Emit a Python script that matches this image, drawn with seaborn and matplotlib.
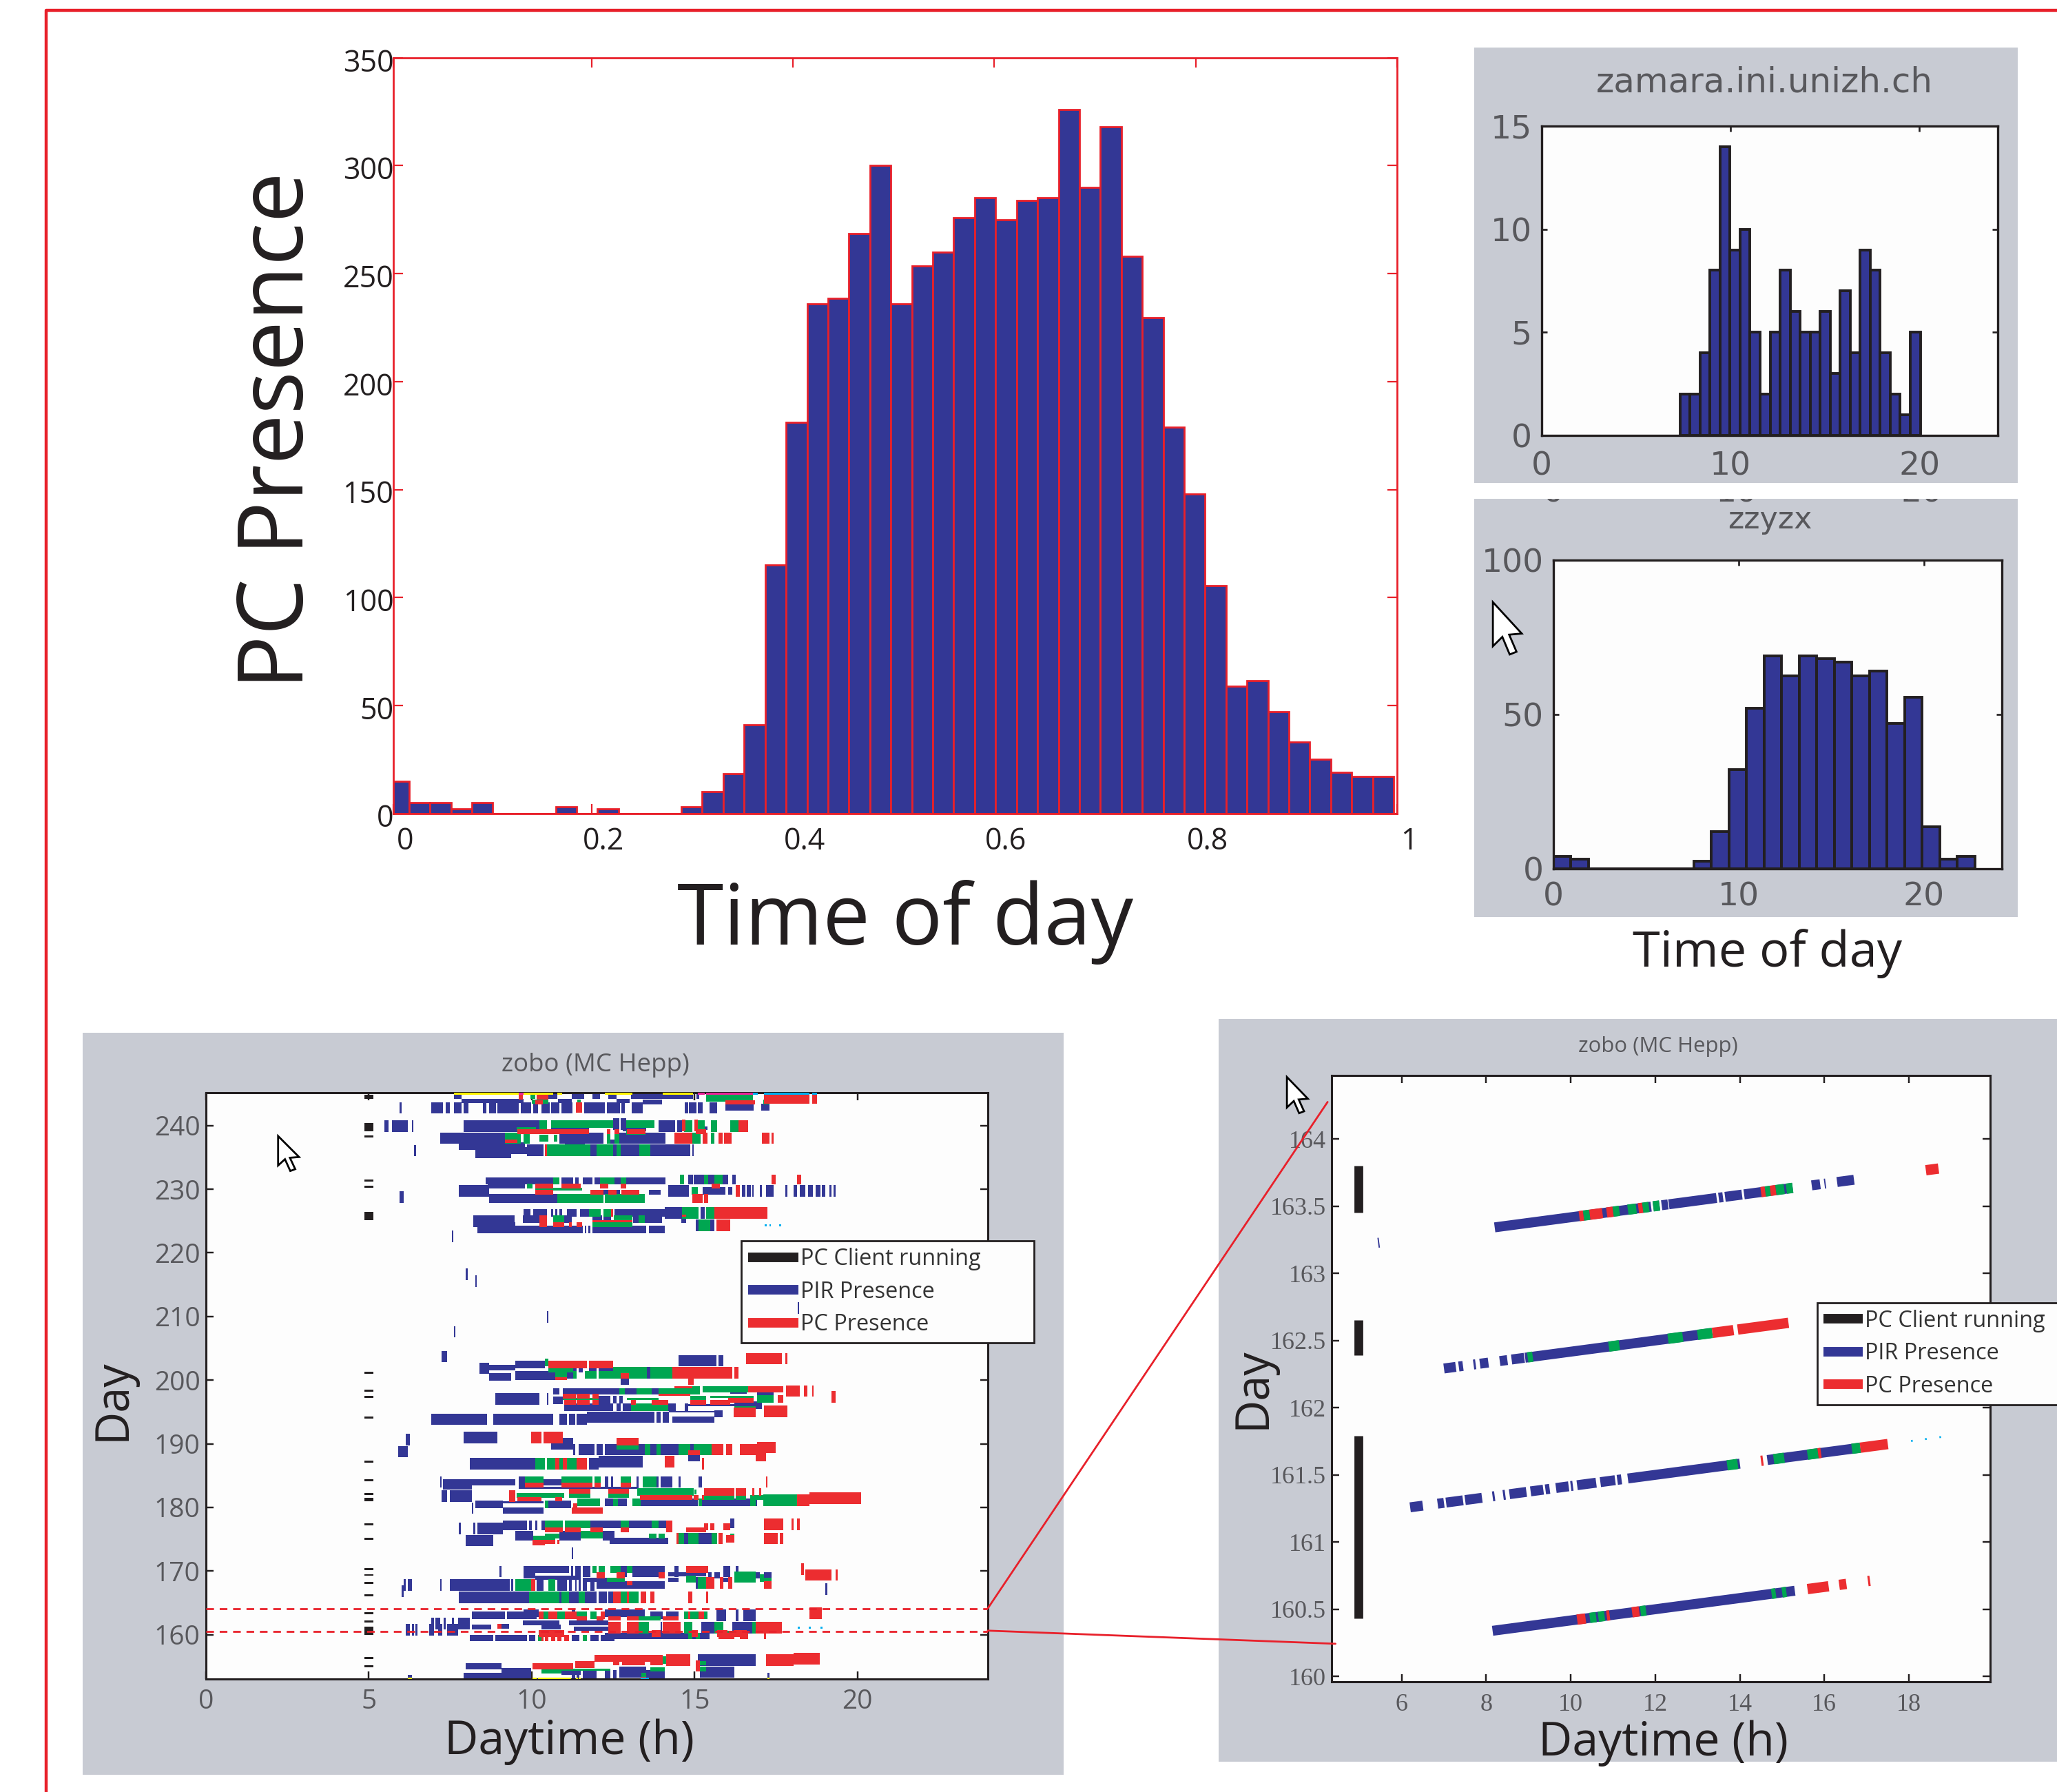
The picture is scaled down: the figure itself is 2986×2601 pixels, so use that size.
import numpy as np
import seaborn as sns
import matplotlib.pyplot as plt
from matplotlib.lines import Line2D
from matplotlib.patches import Polygon, Rectangle
from matplotlib.transforms import ScaledTranslation

# histogram counts, half hour bins over the day fraction
all_counts = [15, 5, 5, 2, 5, 0, 0, 0, 3, 0, 2, 0, 0, 0, 3, 10, 18.5, 41, 115, 181, 236, 238.5, 268.5, 300,
              236, 253.5, 260, 276, 285, 275, 284, 285, 326, 290, 318, 258, 229.5, 179, 148, 105.5, 59, 61.5,
              47, 33, 25, 19, 17, 17]
zamara_counts = [2, 2, 4, 8, 14, 9, 10, 5, 2, 5, 8, 6, 5, 5, 6, 3, 7, 4, 9, 8, 4, 2, 1, 5]
zzyzx_counts = [4, 3, 0, 0, 0, 0, 0, 0, 2.4, 12, 32, 52, 69, 62.5, 69, 68, 67, 62.5, 64, 47, 55.5, 13.5, 3, 4]

# left raster: (day, day span, start hour, end hour)
client_days = [(244.5, .7), (239.7, 1.3), (238.3, .35), (231.35, .35), (230.4, .35), (225.75, 1.3), (201.15, .35),
               (198.3, .35), (197.35, .35), (194.1, .35), (187.2, .35), (184.25, .35), (182.1, .35), (181.25, .6),
               (177.3, .35), (175.05, .35), (170.3, .35), (169.35, .25), (168.1, .35), (166.15, .35), (163.35, .35),
               (162.05, .35), (160.6, 1.3), (156.3, .35), (155, .35)]

pir_segs = [
    # 243-245
    (244.55, .65, 7.61, 7.85), (244.55, .65, 10.51, 10.78), (244.55, .65, 11.22, 11.6), (244.55, .65, 11.87, 12.1),
    (244.55, .65, 12.35, 12.6), (244.55, .65, 13.05, 14.95), (244.55, .65, 15.05, 15.15),
    (243.85, .55, 7.85, 9.75), (243.85, .55, 10.8, 11.22), (243.85, .55, 12.6, 13.0), (243.7, .7, 13.4, 14.0),
    (242.76, 1.5, 6.92, 7.28), (242.76, 1.5, 7.36, 7.49), (242.76, 1.5, 7.61, 7.85), (242.76, 1.5, 7.9, 8.05),
    (242.76, 1.5, 8.5, 8.6), (242.76, 1.5, 8.69, 8.9), (242.76, 1.5, 8.95, 9.6), (242.76, 1.5, 9.66, 9.99),
    (242.76, 1.5, 10.04, 10.2), (242.76, 1.5, 10.3, 10.55), (242.76, 1.5, 10.6, 10.85), (242.76, 1.5, 10.92, 11.25),
    (242.76, 1.5, 11.6, 12.25), (242.76, 1.5, 12.3, 12.7), (242.76, 1.5, 12.75, 12.85), (242.76, 1.5, 13.07, 13.4),
    (242.76, 1.5, 14.7, 14.8), (242.76, 1.5, 14.83, 15.05), (242.76, 1.5, 15.1, 15.25), (242.76, 1.5, 15.45, 15.7),
    (242.9, 1.0, 15.95, 16.81), (242.9, 1.0, 17.05, 17.3), (242.76, 1.5, 5.95, 6.0),
    # 235-241
    (239.93, 1.6, 5.48, 5.6), (239.93, 1.6, 5.7, 6.2), (239.93, 1.6, 6.33, 6.37), (239.93, 1.6, 7.9, 10.24),
    (240.22, 1.6, 12.49, 12.68), (240.22, 1.6, 12.72, 12.9), (239.93, 1.6, 13.9, 14.4), (239.93, 1.6, 14.47, 14.62),
    (239.4, .6, 10.59, 11.76), (239.5, .65, 12.8, 13.52), (239.6, .5, 15.1, 15.4),
    (238.0, 1.5, 7.18, 9.18), (238.0, 1.5, 11.0, 12.2), (238.0, 1.5, 12.68, 14.1), (238.0, 1.5, 10.85, 11.0),
    (236.74, 1.0, 7.77, 9.8), (236.12, 1.6, 9.86, 10.37), (236.74, .7, 11.01, 11.63), (236.12, 1.6, 11.8, 11.98),
    (236.12, 1.6, 12.49, 12.61), (236.12, 1.6, 12.72, 13.3), (236.12, 1.6, 13.63, 14.86), (236.12, 1.6, 14.92, 14.98),
    (235.62, 1.25, 8.26, 9.37), (236.05, .9, 9.37, 9.86), (236.05, 1.5, 6.38, 6.44), (237.5, .55, 12.3, 13.2),
    # 228-232
    (231.3, 1.0, 8.59, 10.65), (231.3, 1.0, 10.91, 11.27), (231.3, 1.0, 11.33, 11.44), (231.3, 1.0, 11.57, 11.87),
    (231.3, 1.0, 11.93, 12.1), (231.3, 1.0, 12.54, 12.72), (231.3, 1.0, 12.9, 14.1), (231.5, 1.35, 14.8, 14.95),
    (231.5, 1.35, 14.98, 15.29), (231.5, 1.35, 15.42, 15.6), (231.5, 1.35, 15.85, 16.02), (231.5, 1.35, 16.15, 16.27),
    (230.5, .6, 8.65, 9.8), (229.73, 1.6, 7.77, 8.7), (229.73, 1.6, 14.18, 14.83), (229.73, 1.0, 15.24, 15.95),
    (229.73, 1.0, 16.02, 16.15), (229.73, 1.6, 16.45, 16.55), (229.73, 1.6, 16.6, 16.72), (229.73, 1.6, 16.76, 16.82),
    (229.73, 1.6, 17.0, 17.06), (229.73, 1.6, 17.19, 17.43), (229.73, 1.6, 17.79, 17.85), (229.73, 1.6, 18.04, 18.15),
    (229.73, 1.6, 18.22, 18.39), (229.73, 1.6, 18.48, 18.63), (229.73, 1.6, 18.72, 18.86), (229.73, 1.6, 18.9, 19.02),
    (229.73, 1.6, 19.13, 19.2), (229.73, 1.6, 19.27, 19.33), (229.5, .65, 12.1, 12.7), (229.5, .65, 13.6, 13.96),
    (228.58, 1.25, 8.69, 10.78), (228.8, 1.6, 5.95, 6.07),
    # 223-227
    (226.27, 1.0, 9.74, 9.97), (226.27, 1.0, 10.04, 10.46), (226.27, 1.0, 10.59, 10.65), (226.27, 1.0, 10.72, 10.78),
    (226.27, 1.0, 10.85, 10.94), (226.27, 1.0, 11.08, 11.38), (226.27, 1.0, 11.49, 11.76), (226.27, 1.0, 12.54, 14.09),
    (226.27, 1.6, 14.09, 14.62), (226.27, 1.6, 15.18, 15.3), (225.29, 1.0, 8.2, 9.48), (225.29, 1.0, 9.72, 10.24),
    (225.29, 1.0, 11.0, 11.22), (225.29, 1.0, 11.87, 12.15), (225.29, 1.0, 12.2, 12.44), (225.29, 1.0, 13.12, 14.0),
    (224.46, .65, 8.2, 8.33), (224.46, .65, 8.33, 9.5), (223.67, 1.0, 8.33, 11.56), (223.67, 1.0, 11.63, 11.67),
    (223.67, 1.0, 11.74, 11.8), (223.67, 1.0, 11.87, 13.52), (223.67, 1.0, 13.59, 14.09), (224.32, 1.6, 15.04, 15.11),
    (224.32, 1.6, 15.48, 15.6), (225.2, .9, 14.6, 14.74),
    # isolated
    (222.6, 1.6, 7.54, 7.6), (216.6, 1.6, 7.98, 8.04), (215.6, 1.6, 8.26, 8.32), (209.9, 1.6, 10.46, 10.51),
    (207.6, 1.5, 7.62, 7.66), (203.68, 1.5, 7.24, 7.41),
    # 199-204
    (203.03, 1.5, 14.51, 15.67), (203.03, 1.5, 15.73, 15.89), (202.45, 1.0, 9.5, 10.41), (201.83, 1.55, 8.39, 8.69),
    (202.0, .75, 8.69, 9.5), (201.62, .65, 11.27, 11.38), (201.62, .65, 11.44, 11.56), (201.62, .65, 11.76, 12.0),
    (201.62, .65, 12.05, 12.49), (201.15, 1.6, 13.53, 13.63), (200.53, 1.0, 8.69, 9.37), (200.68, 1.25, 9.5, 10.73),
    (200.7, .9, 11.08, 11.27), (199.85, 1.0, 12.72, 12.98),
    # 193-199
    (198.26, .87, 10.65, 10.85), (198.26, .87, 10.95, 12.68), (198.26, .87, 12.85, 13.21), (198.26, .87, 13.69, 13.89),
    (197.03, 1.6, 8.88, 10.24), (197.03, 1.6, 10.46, 10.51), (196.85, 1.0, 10.65, 10.95), (196.9, 1.0, 12.05, 12.41),
    (196.9, 1.0, 12.5, 12.61), (196.9, 1.0, 12.68, 12.8), (197.83, .65, 16.92, 17.43), (198.0, .3, 16.1, 16.6),
    (195.73, 1.0, 11.0, 12.49), (195.73, 1.0, 12.61, 12.72), (195.73, 1.0, 12.8, 13.04), (195.73, 1.0, 14.18, 14.42),
    (195.73, 1.0, 14.69, 14.8), (196.06, .33, 14.8, 16.22), (196.06, 1.0, 16.22, 17.06), (194.15, 1.5, 11.7, 13.77),
    (194.15, 1.5, 13.82, 13.96), (194.15, 1.5, 14.02, 14.2), (193.82, .87, 14.31, 15.6), (195.05, .25, 14.2, 15.85),
    (194.72, .9, 15.6, 15.85), (193.82, 1.5, 6.92, 8.63), (193.82, 1.5, 8.81, 10.65), (193.82, 1.5, 10.85, 11.08),
    (193.82, 1.5, 11.14, 11.34), (193.82, 1.5, 11.38, 11.69),
    # 186-192
    (190.93, 1.6, 7.9, 8.94), (190.64, 1.6, 6.13, 6.26), (188.73, 1.5, 5.9, 6.2), (190.32, 1.0, 10.95, 11.27),
    (189.67, 1.0, 10.59, 11.27), (189.05, 1.5, 11.27, 11.34), (189.05, 1.5, 11.44, 11.93), (189.05, 1.5, 11.99, 12.18),
    (189.05, 1.5, 12.25, 13.47), (189.05, 1.5, 13.63, 13.83), (189.05, 1.5, 13.96, 14.51), (189.05, 1.5, 14.87, 14.98),
    (187.83, 1.0, 14.8, 15.16), (186.85, 1.6, 8.1, 10.1), (186.85, 1.6, 11.76, 12.05), (187.18, 1.6, 12.05, 13.4),
    # 179-185
    (183.96, 1.5, 9.61, 9.8), (183.96, .87, 10.36, 10.91), (183.96, 1.5, 12.25, 12.36), (183.96, 1.5, 12.44, 12.49),
    (183.96, 1.5, 13.21, 13.27), (183.96, 1.5, 13.83, 13.89), (183.96, 1.5, 13.96, 14.31), (183.96, 1.5, 14.51, 14.56),
    (183.96, 1.5, 15.11, 15.23), (183.96, .87, 7.28, 9.5), (183.96, 1.5, 7.18, 7.23), (183.2, .65, 7.28, 8.16),
    (183.06, .33, 9.61, 13.27), (181.76, 1.6, 7.24, 7.41), (181.76, 1.6, 7.48, 8.16), (180.79, 1.0, 12.25, 12.5),
    (180.79, 1.0, 12.64, 12.91), (180.79, 1.0, 13.34, 15.1), (180.79, 1.0, 15.23, 16.71), (180.79, 1.0, 16.87, 16.92),
    (180.46, 1.0, 8.26, 9.12), (180.82, .25, 9.12, 10.36), (180.46, 1.0, 10.51, 11.2), (179.52, .87, 9.12, 10.36),
    (179.85, 1.5, 8.17, 8.2),
    # 173-178
    (177.14, 1.3, 9.12, 9.86), (177.14, 1.3, 9.92, 10.0), (177.14, 1.3, 10.1, 10.18), (177.14, 1.3, 10.29, 10.41),
    (177.32, 1.0, 11.8, 12.72), (177.32, 1.0, 12.98, 13.69), (177.32, 1.0, 13.89, 14.12), (177.47, 1.3, 16.09, 16.22),
    (176.67, 1.6, 7.77, 7.83), (176.67, 1.6, 8.2, 8.27), (176.67, 1.6, 8.33, 9.12), (175.52, 1.3, 9.5, 10.04),
    (175.52, 1.3, 10.85, 11.5), (175.52, 1.3, 12.18, 12.54), (174.76, .87, 12.4, 14.18), (174.76, 1.5, 7.97, 8.81),
    (175.08, 1.5, 14.67, 14.8), (175.08, 1.5, 15.11, 15.53), (175.2, .9, 16.09, 16.22), (172.8, 1.6, 11.22, 11.27),
    # 165-171
    (169.96, 1.5, 9.01, 9.08), (170.25, .95, 9.74, 11.14), (169.96, 1.5, 11.2, 11.27), (169.96, 1.5, 11.34, 11.5),
    (169.96, 1.5, 11.56, 11.8), (169.96, 1.5, 12.72, 12.91), (169.96, 1.5, 13.1, 14.09), (169.96, 1.5, 14.38, 14.51),
    (169.96, 1.5, 15.89, 16.09), (169.96, 1.5, 16.27, 16.34), (169.34, .87, 9.74, 10.1), (168.91, .6, 10.1, 11.5),
    (169.49, .6, 14.18, 15.36), (169.34, .87, 15.42, 15.52), (169.34, .87, 15.6, 15.78), (169.34, .87, 16.87, 17.0),
    (169.34, .87, 17.13, 17.36), (168.6, .6, 11.56, 12.3), (168.6, .6, 14.18, 14.5), (168.6, .6, 15.89, 16.09),
    (167.79, 1.6, 7.48, 9.33), (167.79, 1.6, 9.37, 9.43), (167.79, 1.6, 10.16, 10.36), (167.79, 1.6, 10.78, 11.08),
    (167.79, 1.6, 11.14, 11.22), (167.79, 1.6, 11.34, 11.38), (167.79, 1.6, 11.44, 11.5), (167.79, 1.6, 11.56, 11.69),
    (167.79, 1.6, 11.8, 11.93), (167.79, 1.0, 11.99, 14.09), (167.79, 1.6, 6.07, 6.13), (167.79, 1.6, 6.19, 6.33),
    (167.79, 1.6, 7.18, 7.23), (168.12, 1.6, 15.04, 15.1), (166.82, 1.6, 6.0, 6.07), (167.14, 1.6, 19.02, 19.07),
    (165.84, 1.6, 7.77, 9.92), (165.84, 1.6, 10.85, 10.91), (165.84, 1.6, 11.14, 11.44), (165.84, 1.6, 11.63, 11.99),
    (165.84, 1.6, 12.05, 12.3), (165.84, 1.6, 12.36, 12.49),
    # 159-164
    (163.35, 1.0, 9.75, 10.22), (163.03, 1.0, 8.16, 9.18), (163.03, 1.0, 9.25, 10.16), (163.35, 1.0, 11.22, 11.34),
    (163.35, 1.0, 12.25, 13.47), (163.06, 1.0, 13.63, 14.02), (163.06, 1.0, 14.12, 14.51), (163.06, 1.6, 15.67, 15.96),
    (163.06, 1.6, 16.27, 16.34), (163.06, 1.6, 16.5, 16.87), (161.69, 1.6, 6.92, 7.0), (161.69, 1.6, 7.05, 7.18),
    (161.69, 1.6, 7.29, 7.36), (161.69, 1.6, 7.54, 7.61), (161.69, 1.6, 7.73, 8.1), (161.87, .65, 9.73, 10.85),
    (161.87, .65, 11.14, 12.36), (161.22, .65, 8.16, 8.76), (161.3, .65, 9.01, 9.3), (161.22, .65, 10.3, 10.9),
    (161.08, 1.6, 13.96, 14.0), (161.08, 1.6, 15.2, 15.6), (161.08, 1.6, 16.15, 16.76), (160.72, 1.6, 6.13, 6.26),
    (160.72, 1.6, 6.33, 6.38), (160.72, 1.6, 6.43, 6.5), (160.72, 1.6, 6.86, 6.99), (160.72, 1.6, 7.12, 7.25),
    (160.72, 1.6, 7.41, 7.74), (160.93, .6, 11.3, 12.53), (159.49, .8, 8.1, 8.81), (159.49, .8, 8.88, 9.86),
    (159.49, .8, 9.92, 10.1), (159.49, .8, 11.22, 11.46), (159.49, .8, 11.8, 12.05), (159.49, .8, 12.12, 12.54),
    (159.81, .87, 12.25, 14.8), (159.81, .87, 14.93, 15.04), (159.81, .87, 15.16, 15.46),
    # 153-157
    (155.98, 1.6, 15.1, 16.87), (155.05, .87, 7.97, 9.08), (153.49, .95, 7.9, 9.08), (153.82, 1.6, 9.08, 9.99),
    (154.0, .6, 10.91, 11.5), (153.35, .65, 11.22, 11.34), (153.35, .65, 11.38, 11.46), (153.68, 1.25, 11.56, 11.98),
    (153.68, 1.25, 12.25, 12.41), (153.68, 1.25, 12.49, 12.61), (154.11, 1.45, 12.68, 13.52), (153.68, 1.25, 13.52, 14.09),
    (154.11, 1.45, 15.16, 16.22), (153.35, .6, 6.19, 6.33), (153.49, .9, 17.24, 17.3),
]

green_segs = [
    (244.3, .9, 15.35, 16.8), (244.55, .65, 9.95, 10.1), (243.75, .5, 10.0, 10.5), (243.8, .5, 11.4, 11.5),
    (243.7, .6, 17.1, 17.3), (239.93, 1.6, 10.24, 10.46), (240.26, 1.0, 10.59, 12.49), (240.6, .35, 11.57, 12.49),
    (240.26, 1.0, 12.9, 13.77), (239.93, 1.6, 14.67, 14.93), (239.93, 1.6, 15.1, 15.3), (239.93, 1.6, 15.5, 15.7),
    (239.93, 1.6, 16.1, 16.35), (239.4, .6, 9.53, 10.13), (238.0, 1.5, 9.18, 9.67), (238.0, 1.5, 9.75, 9.93),
    (238.0, 1.0, 10.24, 10.5), (238.0, 1.0, 10.67, 10.78), (238.0, 1.5, 12.3, 12.41), (238.0, 1.5, 12.55, 12.68),
    (238.9, .65, 12.9, 13.5), (238.0, 1.5, 14.93, 15.18), (238.0, 1.5, 15.5, 15.6), (236.12, 1.6, 10.46, 11.8),
    (236.12, 1.6, 11.98, 12.49), (236.12, 1.6, 12.61, 12.72), (236.12, 1.6, 13.3, 13.63),
    (231.3, 1.0, 10.65, 10.85), (231.3, 1.0, 12.1, 12.54), (231.3, 1.0, 12.72, 12.9), (231.5, 1.35, 14.55, 14.67),
    (231.5, 1.35, 15.29, 15.42), (231.5, 1.35, 15.6, 15.85), (230.5, .6, 9.86, 10.02), (230.02, .35, 10.1, 10.65),
    (230.02, .35, 10.65, 11.55), (228.58, 1.25, 10.78, 12.2), (228.58, 1.25, 12.25, 13.47), (229.73, 1.0, 14.9, 15.1),
    (228.6, .8, 15.29, 15.42), (226.27, 1.0, 11.76, 12.12), (226.27, 1.0, 12.2, 12.44), (226.27, 1.6, 14.62, 15.11),
    (226.27, 1.6, 15.36, 15.6), (225.29, 1.0, 10.65, 11.0), (225.29, 1.0, 12.52, 13.1), (225.29, 1.0, 13.28, 13.47),
    (224.46, .65, 11.87, 13.08), (224.32, 1.6, 15.11, 15.48),
    (202.8, 1.0, 10.41, 10.51), (201.62, .65, 10.51, 11.27), (201.15, 1.6, 12.49, 13.53), (201.15, 1.6, 13.63, 14.32),
    (200.82, 1.0, 10.73, 11.08), (200.82, 1.0, 11.27, 11.38), (200.82, 1.0, 11.63, 12.0), (200.82, 1.0, 12.05, 12.49),
    (198.26, .87, 12.68, 12.85), (198.26, .87, 13.21, 13.69), (198.26, .87, 13.89, 15.16), (198.58, .87, 14.93, 15.16),
    (198.58, .87, 15.24, 16.65), (197.03, .33, 10.95, 12.05), (197.03, .33, 12.91, 13.89), (197.18, .65, 14.87, 15.36),
    (197.36, .33, 15.48, 16.81), (197.03, 1.0, 16.92, 17.43), (195.73, 1.0, 13.04, 14.18), (195.73, .33, 16.22, 16.87),
    (190.46, .65, 10.59, 10.95), (189.49, .65, 12.6, 13.27), (189.05, 1.5, 13.47, 13.63), (189.05, 1.5, 13.83, 13.96),
    (189.05, 1.5, 14.51, 14.87), (189.05, 1.5, 14.98, 15.53), (186.85, 1.6, 10.1, 10.22), (186.85, 1.6, 10.22, 10.41),
    (186.85, 1.6, 10.46, 10.72), (186.85, 1.6, 10.85, 10.95), (186.85, 1.6, 11.08, 11.38),
    (183.96, 1.5, 9.8, 10.36), (183.96, 1.5, 10.91, 11.87), (183.96, 1.5, 11.93, 12.12), (183.96, 1.5, 12.72, 13.04),
    (183.96, 1.5, 13.4, 13.83), (182.41, 1.0, 13.24, 14.97), (182.41, .65, 15.0, 15.05), (181.87, .65, 9.53, 11.0),
    (181.87, .65, 11.14, 11.8), (181.87, .65, 12.36, 12.98), (181.58, .65, 15.29, 16.22), (181.58, .65, 16.27, 16.58),
    (181.58, .65, 16.71, 17.13), (181.11, 1.6, 17.1, 18.15), (180.79, 1.0, 12.5, 12.64), (180.79, 1.0, 13.09, 13.34),
    (180.79, 1.0, 15.11, 15.23), (180.79, 1.0, 16.71, 16.87), (180.46, 1.0, 10.41, 10.51), (180.79, 1.0, 11.4, 12.1),
    (177.14, 1.3, 10.41, 10.95), (177.32, 1.0, 11.01, 11.8), (177.32, 1.0, 12.72, 12.98), (177.32, 1.0, 13.69, 13.89),
    (175.7, 1.0, 11.5, 12.18), (175.52, .65, 10.41, 10.85), (175.19, .65, 10.04, 10.72), (175.52, .65, 13.59, 13.83),
    (175.52, .65, 13.89, 14.09), (175.08, 1.5, 14.51, 14.67), (175.08, 1.5, 14.8, 15.11), (175.08, 1.5, 15.53, 15.7),
    (175.52, .65, 16.09, 16.22),
    (170.25, .95, 11.87, 12.0), (170.25, .95, 12.05, 12.25), (170.25, .95, 12.41, 12.72), (170.25, .95, 12.91, 13.1),
    (169.02, 1.5, 16.22, 16.87), (169.02, .87, 17.0, 17.13), (168.6, .6, 17.0, 17.36), (168.6, .6, 12.3, 12.85),
    (168.73, .95, 14.74, 15.04), (167.79, 1.6, 9.5, 9.99), (167.79, 1.6, 10.51, 10.72), (168.12, 1.6, 15.1, 15.36),
    (165.84, 1.6, 9.92, 10.85), (165.84, 1.6, 10.91, 11.14), (165.84, 1.6, 11.44, 11.63), (165.84, 1.6, 12.49, 12.61),
    (165.84, 1.6, 12.72, 12.91), (165.84, 1.6, 12.98, 13.27),
    (163.06, 1.0, 10.36, 10.51), (163.06, 1.0, 10.78, 11.01), (163.06, 1.0, 11.38, 11.69), (163.06, 1.0, 11.8, 12.0),
    (163.06, 1.0, 14.67, 14.8), (163.06, 1.0, 14.87, 15.11), (163.06, 1.0, 15.29, 15.4), (162.56, .6, 13.27, 13.96),
    (162.56, .6, 14.12, 14.51), (161.08, 1.6, 13.27, 13.59), (161.08, 1.6, 14.67, 14.93), (161.08, 1.6, 15.6, 15.89),
    (161.08, 1.6, 16.76, 16.87), (160.3, .6, 15.98, 16.2), (159.49, .8, 10.2, 10.29), (159.49, .8, 11.56, 11.69),
    (159.81, .87, 14.8, 14.93), (159.81, .87, 15.04, 15.16), (154.29, .65, 10.29, 10.91), (154.47, .33, 10.91, 12.41),
    (154.58, .55, 13.63, 14.09), (155.52, .6, 15.11, 15.36), (154.61, .6, 15.11, 15.36), (153.68, .55, 13.37, 13.52),
    (155.98, 1.0, 14.0, 14.12),
]

red_segs = [
    (244.2, 1.25, 17.12, 18.53), (244.2, 1.25, 18.6, 18.76), (244.45, .65, 9.6, 9.72), (244.45, .65, 10.15, 10.5),
    (243.65, .65, 15.95, 16.85), (243.65, .6, 10.1, 10.35), (242.8, 1.4, 11.35, 11.55), (240.0, 1.6, 14.62, 14.72),
    (240.0, 1.6, 15.0, 15.1), (239.93, 1.6, 16.35, 16.65), (239.08, .65, 9.55, 11.76), (239.08, .65, 12.3, 12.41),
    (239.08, .65, 12.55, 12.68), (239.08, .65, 12.92, 13.5), (239.08, .65, 15.04, 15.35), (237.53, .55, 9.18, 9.55),
    (238.0, 1.5, 14.39, 14.93), (238.0, 1.5, 15.25, 15.4), (238.0, 1.5, 15.73, 15.85), (238.0, 1.5, 15.9, 16.14),
    (238.0, 1.5, 17.06, 17.3), (238.0, 1.5, 17.36, 17.43), (236.12, 1.6, 10.41, 10.46),
    (231.5, 1.35, 17.36, 17.49), (231.5, 1.35, 18.15, 18.28), (230.5, .6, 10.1, 10.65), (230.5, .6, 10.91, 11.5),
    (230.5, .6, 12.1, 12.36), (230.5, .6, 12.72, 12.9), (230.5, .6, 15.53, 15.78), (229.73, 1.6, 16.27, 16.38),
    (229.5, .65, 10.1, 10.65), (229.5, .65, 11.8, 12.2), (229.5, .65, 12.36, 12.61), (229.5, .65, 12.76, 13.3),
    (228.58, 1.25, 14.93, 15.24), (228.58, 1.25, 15.29, 15.42), (226.27, 1.0, 12.44, 12.5), (226.27, 1.6, 15.6, 17.23),
    (225.29, 1.0, 10.24, 10.46), (225.8, .3, 14.62, 14.74), (224.95, .33, 11.87, 13.08), (224.46, .65, 10.24, 10.46),
    (224.46, .65, 10.65, 11.0), (224.46, .65, 11.14, 11.22), (224.46, .65, 11.38, 11.55), (224.32, 1.6, 15.67, 16.09),
    (203.35, 1.5, 16.58, 17.68), (203.35, 1.5, 17.79, 17.85), (202.45, 1.0, 10.51, 11.69), (202.45, 1.0, 11.76, 12.49),
    (201.15, 1.6, 14.32, 16.15), (201.15, 1.6, 16.22, 16.34), (200.68, .7, 12.72, 12.98), (200.21, .35, 10.73, 11.08),
    (199.85, 1.0, 14.8, 14.98),
    (198.9, .3, 14.39, 14.93), (198.58, .87, 16.65, 17.72), (198.26, 1.5, 17.8, 18.23), (198.26, 1.5, 18.35, 18.47),
    (198.26, 1.5, 18.6, 18.65), (197.5, .65, 10.95, 11.35), (197.5, .65, 11.38, 11.77), (197.5, .65, 11.87, 12.05),
    (197.7, .33, 13.89, 14.87), (196.53, .65, 11.0, 11.35), (196.53, .65, 11.38, 11.77), (196.53, .65, 11.87, 12.05),
    (196.53, .65, 13.05, 13.19), (196.53, .65, 13.69, 14.18), (196.53, .65, 14.87, 15.36), (196.53, .65, 15.48, 16.09),
    (196.85, .65, 16.02, 16.81), (197.03, 1.0, 17.55, 17.72), (197.36, 1.6, 19.21, 19.33), (194.9, 1.3, 16.2, 16.87),
    (195.08, 1.6, 17.13, 17.85),
    (190.93, 1.6, 9.99, 10.29), (190.93, 1.6, 10.36, 10.95), (190.32, 1.0, 12.6, 13.27), (189.05, 1.5, 15.53, 15.89),
    (189.05, 1.5, 15.96, 16.15), (189.05, 1.5, 16.38, 16.92), (189.38, 1.5, 16.92, 17.49), (188.62, .65, 14.8, 15.16),
    (187.97, 1.3, 16.87, 17.2), (186.85, 1.6, 10.72, 10.85), (186.85, 1.6, 10.95, 11.08), (186.85, 1.6, 11.38, 11.69),
    (187.18, 1.6, 14.09, 14.38), (186.85, 1.6, 15.23, 15.29),
    (183.53, .65, 9.8, 10.36), (183.53, .65, 10.91, 11.87), (183.53, .65, 11.93, 12.12), (183.53, .65, 12.72, 13.04),
    (183.96, 1.5, 17.2, 17.24), (182.55, .7, 11.14, 11.8), (182.55, .7, 12.36, 12.98), (182.41, 1.0, 15.29, 16.22),
    (182.41, 1.0, 16.27, 16.58), (182.41, 1.0, 16.77, 16.83), (182.41, 1.0, 16.98, 17.04), (181.76, 1.6, 9.31, 9.5),
    (181.26, .6, 9.55, 10.3), (181.26, .6, 10.72, 10.94), (181.58, .65, 13.33, 14.93), (181.58, .65, 14.98, 15.11),
    (181.58, .65, 15.23, 15.29), (181.11, 1.6, 18.15, 18.53), (181.44, 1.6, 18.53, 20.1), (180.28, .65, 11.27, 11.39),
    (179.52, .87, 11.22, 12.18),
    (176.96, 1.6, 14.12, 14.31), (176.96, 1.0, 15.29, 15.42), (176.96, 1.0, 15.48, 15.6), (176.96, 1.0, 15.89, 16.09),
    (177.32, 1.6, 17.13, 17.73), (177.32, 1.6, 17.98, 18.04), (177.32, 1.6, 18.15, 18.22), (176.49, .65, 10.41, 10.95),
    (176.49, .65, 11.01, 11.5), (176.49, .65, 11.8, 12.18), (176.49, .65, 12.72, 12.98), (176.49, .65, 14.74, 15.36),
    (174.47, .8, 10.03, 10.41), (174.61, .55, 10.41, 10.72), (174.61, .55, 10.78, 10.85), (175.08, 1.5, 14.45, 14.51),
    (175.08, 1.5, 15.73, 15.85), (175.08, 1.0, 15.96, 16.22), (175.08, 1.5, 17.13, 17.55), (175.08, 1.5, 17.62, 17.73),
    (170.25, .95, 14.74, 15.42), (170.25, 1.6, 18.28, 18.35), (169.34, .87, 12.0, 12.25), (169.34, .87, 12.61, 12.85),
    (169.34, .87, 13.89, 14.09), (169.34, 1.5, 18.4, 19.2), (169.34, 1.5, 19.33, 19.39), (168.1, .6, 12.91, 13.1),
    (167.79, 1.6, 9.99, 10.1), (168.12, 1.6, 15.36, 15.6), (168.12, 1.6, 15.78, 15.89), (168.12, 1.6, 16.02, 16.15),
    (167.79, 1.0, 17.13, 17.36), (165.84, 1.6, 12.49, 12.61), (165.84, 1.6, 12.61, 12.72), (165.84, 1.6, 12.91, 12.98),
    (165.84, 1.6, 13.34, 13.52), (165.84, 1.6, 13.63, 13.76), (165.84, 1.6, 14.8, 14.93), (165.84, 1.6, 15.36, 15.42),
    (163.06, 1.0, 10.22, 10.36), (163.06, 1.0, 10.51, 10.78), (163.06, 1.0, 11.01, 11.38), (162.56, .6, 11.38, 11.69),
    (162.56, .6, 12.0, 12.2), (163.06, 1.0, 12.12, 12.25), (163.06, 1.0, 14.8, 14.87), (163.06, 1.0, 15.11, 15.29),
    (163.35, 1.6, 18.53, 18.9), (162.56, .6, 12.36, 12.72), (162.56, .6, 12.91, 13.27), (162.56, .6, 14.02, 14.51),
    (161.08, 1.6, 12.36, 12.72), (161.08, 1.6, 12.91, 13.27), (161.08, 1.6, 14.02, 14.56), (161.08, 1.6, 16.87, 17.68),
    (161.3, .65, 8.95, 9.08), (160.17, .9, 10.22, 11.0), (160.17, .9, 13.69, 13.96), (160.17, .9, 14.9, 15.1),
    (160.17, .9, 15.7, 16.0), (160.17, .9, 16.2, 16.6), (159.81, .87, 15.73, 16.22), (159.81, .87, 16.38, 16.64),
    (159.81, .87, 17.13, 17.19), (159.49, .8, 10.29, 10.36), (159.49, .8, 10.41, 10.51), (159.49, .8, 10.59, 10.72),
    (159.49, .8, 10.78, 10.91), (159.49, .8, 11.0, 11.14),
    (156.27, 1.0, 11.93, 14.02), (155.98, 1.6, 14.12, 14.87), (155.98, 1.6, 17.19, 18.04), (156.27, 1.6, 18.04, 18.84),
    (155.05, .87, 10.03, 11.27), (155.3, .87, 11.34, 11.93), (155.5, .6, 12.49, 12.68), (155.5, .6, 12.78, 13.47),
    (155.5, .6, 13.63, 14.02), (155.05, 1.5, 15.04, 15.16), (153.2, .35, 13.34, 13.52),
]

strip_yellow = [(153.1, .3, 6.2, 6.33), (153.1, .3, 10.03, 10.15), (153.1, .3, 10.2, 11.2), (153.1, .3, 11.35, 11.42),
                (153.1, .3, 11.45, 11.5), (153.1, .3, 17.24, 17.3), (245.0, .3, 7.61, 9.59), (245.0, .3, 9.75, 10.65),
                (245.0, .3, 10.78, 10.94), (245.0, .3, 12.25, 13.1), (245.0, .3, 14.02, 14.94)]
strip_magenta = [(245.0, .3, 15.35, 16.8), (245.0, .3, 9.6, 9.74), (245.0, .3, 15.1, 15.3)]
strip_cyan = [(153.1, .3, 13.34, 13.6), (245.0, .3, 16.78, 16.94), (245.0, .3, 17.13, 18.53), (245.0, .3, 18.6, 18.76),
              (224.3, .25, 17.15, 17.21), (224.3, .25, 17.3, 17.35), (224.3, .25, 17.6, 17.66), (161.1, .25, 18.17, 18.23),
              (161.1, .25, 18.5, 18.56), (161.1, .25, 18.87, 18.93)]
stray_pir = [(211.3, 1.6, 18.16, 18.2)]

# right raster: (day, start hour, end hour), the rows climb with y = day + hour / 24
zoom_client = [(163.8, 163.45), (162.65, 162.39), (161.79, 160.43)]
zoom_pir = [(163, 5.44, 5.47), (163, 8.2, 11.9), (163, 11.95, 12.1), (163, 12.15, 12.3), (163, 12.32, 13.45), (163, 13.5, 13.6),
            (163, 13.65, 14.05), (163, 14.1, 14.55), (163, 14.55, 15.25), (163, 15.7, 15.9), (163, 16.0, 16.03), (163, 16.3, 16.7),
            (162, 7.0, 7.28), (162, 7.35, 7.45), (162, 7.7, 7.75), (162, 7.85, 8.05), (162, 8.32, 8.5), (162, 8.6, 8.9), (162, 8.92, 13.3),
            (161, 6.2, 6.5), (161, 6.85, 7.0), (161, 7.05, 7.45), (161, 7.5, 7.9), (161, 8.15, 8.2), (161, 8.4, 8.45), (161, 8.55, 8.95),
            (161, 9.05, 9.35), (161, 9.4, 9.5), (161, 9.65, 9.95), (161, 10.0, 10.05), (161, 10.15, 10.6), (161, 10.7, 11.05),
            (161, 11.1, 11.2), (161, 11.35, 13.75), (161, 13.85, 14.0), (161, 14.65, 16.85),
            (160, 8.15, 15.3)]
zoom_green = [(163, 10.3, 10.45), (163, 11.0, 11.15), (163, 11.35, 11.55), (163, 11.7, 11.85), (163, 11.95, 12.1), (163, 14.6, 14.72),
              (163, 14.85, 15.05), (163, 15.1, 15.25), (162, 8.98, 9.1), (162, 10.9, 11.15), (162, 12.3, 12.65), (162, 13.0, 13.35),
              (161, 13.7, 13.95), (161, 14.8, 15.05), (161, 15.6, 15.85), (161, 16.65, 16.85), (160, 10.45, 10.6), (160, 10.65, 10.8),
              (160, 11.65, 11.78), (160, 14.75, 14.85), (160, 15.0, 15.1)]
zoom_red = [(163, 10.2, 10.3), (163, 10.45, 10.75), (163, 10.85, 11.0), (163, 11.6, 11.7), (163, 14.5, 14.6), (163, 14.72, 14.85),
            (163, 18.4, 18.7), (162, 13.35, 13.85), (162, 13.95, 15.15), (161, 14.5, 14.55), (161, 15.85, 15.92), (161, 16.85, 17.5),
            (160, 10.15, 10.35), (160, 10.85, 10.92), (160, 11.45, 11.62), (160, 15.6, 16.1), (160, 16.35, 16.52), (160, 17.03, 17.08)]
zoom_cyan = [(161, 18.05, 18.09), (161, 18.38, 18.42), (161, 18.72, 18.76)]

legend_labels = ["PC Client running", "PIR Presence", "PC Presence"]

BLUE = "#333795"
GREEN = "#00a651"
RED = "#ec2d30"
LINE_RED = "#e8202a"
BLACK = "#231f20"
PANEL = "#c8cbd3"
GRAY = "#58585c"
W, H = 1568.0, 1366.0

sns.set_theme(style="ticks")
plt.rcParams["font.family"] = ["Open Sans", "DejaVu Sans"]

fig = plt.figure(figsize=(14.93, 13.005), dpi=200, facecolor="white")


def fx(x, y):
    return x / W, 1 - y / H


def add_ax(x0, y0, x1, y1):
    ax = fig.add_axes([x0 / W, 1 - y1 / H, (x1 - x0) / W, (y1 - y0) / H])
    ax.set_facecolor("#fdfdfd")
    return ax


def panel(x0, y0, x1, y1):
    p = Rectangle((x0 / W, 1 - y1 / H), (x1 - x0) / W, (y1 - y0) / H, transform=fig.transFigure,
                  facecolor=PANEL, edgecolor="none", zorder=-5)
    fig.add_artist(p)
    return p


def put(x, y, s, **kw):
    return fig.text(x / W, 1 - y / H, s, ha="center", va="center", **kw)


def style(ax, color, lw=1.0, length=5):
    for side in ax.spines.values():
        side.set_color(color)
        side.set_linewidth(lw)
    ax.tick_params(direction="in", top=True, right=True, color=color, width=lw * .8, length=length, pad=3)
    ax.grid(False)
    ax.set_xlabel("")
    ax.set_ylabel("")


def hist(ax, counts, edges, edge, lw):
    centers = (edges[:-1] + edges[1:]) / 2
    sns.histplot(x=centers, weights=counts, bins=list(edges), ax=ax, color=BLUE, edgecolor=edge, linewidth=lw, alpha=1)


def raster(ax, segs, color, z=2):
    day, span, start, end = map(np.array, zip(*segs))
    ax.barh(day, end - start, left=start, height=span * 1.15, color=color, linewidth=0, zorder=z, antialiased=False)


def cursor(x, y, sx, sy):
    shape = [(0, 0), (0, 16), (3.6, 12.6), (6.4, 19), (9, 18), (6.2, 11.8), (11, 11.4)]
    pts = [fx(x + a * sx, y + b * sy) for a, b in shape]
    fig.add_artist(Polygon(pts, closed=True, transform=fig.transFigure, facecolor="white", edgecolor="black",
                           linewidth=1.0, zorder=30))


def fig_line(pts, **kw):
    xs, ys = zip(*[fx(*p) for p in pts])
    fig.add_artist(Line2D(xs, ys, transform=fig.transFigure, **kw))


def legend(ax, left, top, right, bottom, handle_len):
    handles = [Line2D([], [], color=c, lw=5, solid_capstyle="butt") for c in (BLACK, BLUE, RED)]
    x0, y1 = fx(left, top)
    x1, y0 = fx(right, bottom)
    leg = ax.legend(handles, legend_labels, loc="upper left", bbox_to_anchor=(x0, y0, x1 - x0, y1 - y0),
                    bbox_transform=fig.transFigure, mode="expand", fancybox=False, framealpha=1, facecolor="#fdfdfd",
                    edgecolor=BLACK, borderaxespad=0, borderpad=.3, handlelength=handle_len, handletextpad=.1,
                    labelspacing=.45, prop={"size": 11.7}, labelcolor="#333333")
    leg.get_frame().set_linewidth(1.0)
    leg.set_zorder(5)


# outer frame
fig_line([(35, 1366), (35, 8), (1568, 8)], color=LINE_RED, lw=1.6, zorder=20)

# main histogram
ax = add_ax(300, 44, 1065, 620)
ax.set_facecolor("white")
hist(ax, all_counts, np.linspace(-.002, .9966, 49), LINE_RED, 1.0)
style(ax, LINE_RED, 1.0, 5)
ax.set_xlim(.0035, 1)
ax.set_ylim(0, 350)
ax.set_xticks([.0035, .2, .4, .6, .8, 1], ["0", "0.2", "0.4", "0.6", "0.8", "1"], fontsize=15.5, color=BLACK)
ax.set_yticks(range(0, 351, 50), [str(v) for v in range(0, 351, 50)], fontsize=15.5, color=BLACK)
ax.tick_params(axis="y", pad=0)
ax.tick_params(axis="x", pad=7)
for lab in ax.get_xticklabels():
    lab.set_transform(lab.get_transform() + ScaledTranslation(.085, 0, fig.dpi_scale_trans))
for lab in ax.get_yticklabels():
    lab.set_transform(lab.get_transform() + ScaledTranslation(0, -.015, fig.dpi_scale_trans))
put(213, 328, "PC Presence", rotation=90, fontsize=47, color=BLACK)
put(690, 703, "Time of day", fontsize=44, color=BLACK)

# zamara panel
panel(1124, 36, 1538, 368)
ax = add_ax(1175, 96, 1523, 332)
hist(ax, zamara_counts, np.linspace(7.33, 20.04, 25), BLACK, 1.4)
style(ax, BLACK, 1.2, 3)
ax.set_xlim(0, 24.15)
ax.set_ylim(0, 15)
ax.set_xticks([0, 10, 20], ["0", "10", "20"], family="DejaVu Sans", fontsize=17, color=GRAY)
ax.set_yticks([0, 5, 10, 15], ["0", "5", "10", "15"], family="DejaVu Sans", fontsize=17, color=GRAY)
ax.tick_params(axis="x", pad=8)
ax.tick_params(axis="y", pad=5)
put(1345, 63, "zamara.ini.unizh.ch", fontsize=18, family="DejaVu Sans", color=GRAY)

# zzyzx panel
zz_panel = panel(1124, 380, 1538, 699)
ax = add_ax(1184, 427, 1526, 662)
hist(ax, zzyzx_counts, np.linspace(0, 22.75, 25), BLACK, 1.4)
style(ax, BLACK, 1.2, 3)
ax.set_xlim(0, 24.2)
ax.set_ylim(0, 100)
ax.set_xticks([0, 10, 20], ["0", "10", "20"], family="DejaVu Sans", fontsize=17, color=GRAY)
ax.set_yticks([0, 50, 100], ["0", "50", "100"], family="DejaVu Sans", fontsize=17, color=GRAY)
ax.tick_params(axis="x", pad=7)
ax.tick_params(axis="y", pad=5)
put(1349, 396, "zzyzx", fontsize=16, family="DejaVu Sans", color=GRAY)
for xp, s in zip((1184, 1324, 1465), ("0", "10", "20")):
    t = put(xp, 376, s, fontsize=17, family="DejaVu Sans", color=GRAY)
    t.set_clip_path(zz_panel)
put(1347, 727, "Time of day", fontsize=26, color=BLACK)

# long raster
panel(63, 787, 811, 1353)
ax = add_ax(157, 833, 753, 1280)
raster(ax, pir_segs, BLUE, 2)
raster(ax, green_segs, GREEN, 3)
raster(ax, red_segs, RED, 4)
raster(ax, strip_yellow, "#fff200", 4)
raster(ax, strip_magenta, "#ec2399", 4)
raster(ax, strip_cyan, "#00aeef", 4)
raster(ax, stray_pir, BLUE, 6)
client_y, client_span = map(np.array, zip(*client_days))
ax.barh(client_y, .28, left=4.86, height=client_span, color=BLACK, linewidth=0, zorder=4)
style(ax, BLACK, 1.1, 4)
ax.set_xlim(0, 24)
ax.set_ylim(153, 245.15)
ax.set_xticks([0, 5, 10, 15, 20], ["0", "5", "10", "15", "20"], fontsize=14, color=GRAY)
ax.set_yticks(range(160, 241, 10), [str(v) for v in range(160, 241, 10)], fontsize=14, color=GRAY)
ax.tick_params(axis="x", pad=5)
for day in (164.07, 160.5):
    ax.axhline(day, color=LINE_RED, lw=1.0, ls=(0, (4, 3)), zorder=7)
legend(ax, 565, 946, 788, 1021, 2.25)
put(454, 812, "zobo (MC Hepp)", fontsize=13.2, color=GRAY)
put(86, 1067, "Day", rotation=90, fontsize=24, color=BLACK)
put(434, 1328, "Daytime (h)", fontsize=24.5, color=BLACK)

# zoomed raster
panel(929, 777, 1568, 1343)
ax = add_ax(1015, 820, 1517, 1282)
for segs, color, width in ((zoom_pir, BLUE, 5.2), (zoom_green, GREEN, 5.4), (zoom_red, RED, 5.4), (zoom_cyan, "#00aeef", 1.0)):
    for day, start, end in segs:
        ax.plot([start, end], [day + start / 24, day + end / 24], color=color, lw=width,
                solid_capstyle="butt", zorder=3)
top, bottom = map(np.array, zip(*zoom_client))
ax.vlines(np.full(len(top), 4.97), bottom, top, color=BLACK, lw=4.6, zorder=3)
style(ax, BLACK, 1.1, 4)
ax.set_xlim(4.34, 19.92)
ax.set_ylim(159.96, 164.47)
ax.set_xticks(range(6, 19, 2), [str(v) for v in range(6, 19, 2)], family="Liberation Serif", fontsize=13, color=GRAY)
ax.set_yticks(np.arange(160, 164.1, .5), ["160", "160.5", "161", "161.5", "162", "162.5", "163", "163.5", "164"],
              family="Liberation Serif", fontsize=13, color=GRAY)
ax.tick_params(axis="x", pad=6)
legend(ax, 1385, 993, 1585, 1071, 1.75)
put(1264, 798, "zobo (MC Hepp)", fontsize=11.2, color=GRAY)
put(955, 1058, "Day", rotation=90, fontsize=24, color=BLACK, zorder=10)
put(1268, 1329, "Daytime (h)", fontsize=24.5, color=BLACK)

# red connector lines drawn over everything
fig_line([(753, 1226), (1012, 840)], color=LINE_RED, lw=1.0, zorder=25)
fig_line([(753, 1243), (1018, 1253)], color=LINE_RED, lw=1.0, zorder=25)

cursor(1138, 459, 2.0, 2.1)
cursor(212, 866, 1.45, 1.4)
cursor(981, 821, 1.45, 1.45)

fig.savefig("out.png", dpi=200)
